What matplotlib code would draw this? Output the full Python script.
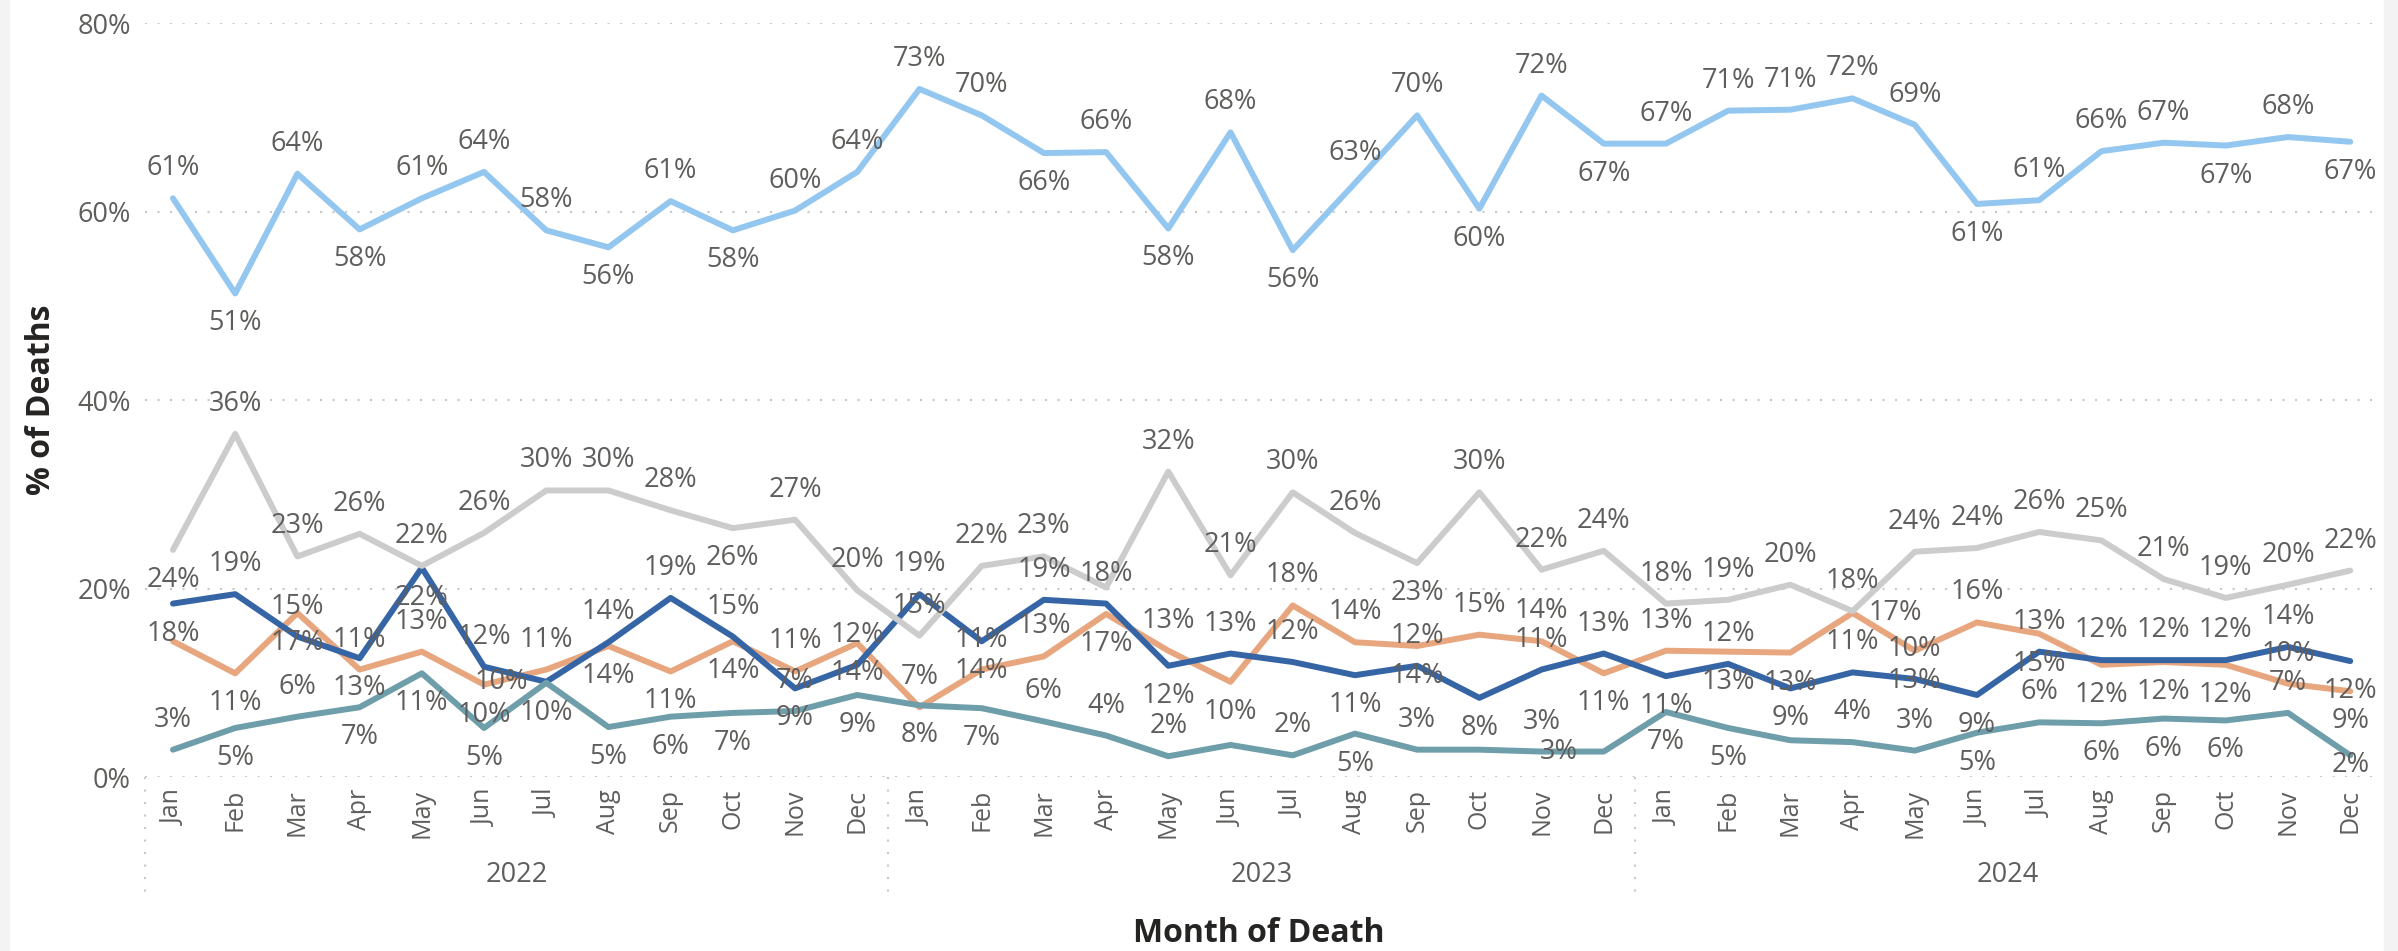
import matplotlib
matplotlib.use("Agg")
import matplotlib.pyplot as plt
from matplotlib.patches import Rectangle

plt.rcParams['font.family'] = ['Open Sans', 'DejaVu Sans']

months = ["Jan", "Feb", "Mar", "Apr", "May", "Jun",
          "Jul", "Aug", "Sep", "Oct", "Nov", "Dec"] * 3
years = ["2022", "2023", "2024"]

# % of deaths per month (five groups)
light_blue = [61.4, 51.3, 64.0, 58.1, 61.4, 64.2, 58.0, 56.2, 61.1, 58.0, 60.1, 64.2,
              73.0, 70.2, 66.2, 66.3, 58.2, 68.4, 55.9, 63.0, 70.2, 60.3, 72.3, 67.2,
              67.2, 70.7, 70.8, 72.0, 69.2, 60.8, 61.2, 66.4, 67.3, 67.0, 67.9, 67.4]
gray = [24.1, 36.4, 23.4, 25.8, 22.4, 25.9, 30.4, 30.4, 28.3, 26.4, 27.3, 19.8,
        15.0, 22.4, 23.4, 20.1, 32.4, 21.4, 30.2, 25.9, 22.7, 30.2, 22.0, 24.0,
        18.4, 18.8, 20.4, 17.6, 23.9, 24.3, 26.0, 25.1, 21.0, 19.0, 20.4, 21.9]
dark_blue = [18.4, 19.4, 14.9, 12.6, 22.2, 11.7, 10.1, 14.3, 19.0, 14.9, 9.4, 11.9,
             19.4, 14.4, 18.8, 18.4, 11.8, 13.1, 12.2, 10.8, 11.8, 8.4, 11.4, 13.1,
             10.7, 12.0, 9.4, 11.1, 10.4, 8.7, 13.3, 12.4, 12.4, 12.4, 13.8, 12.3]
orange = [14.4, 11.0, 17.4, 11.4, 13.3, 9.8, 11.4, 13.9, 11.2, 14.4, 11.2, 14.2,
          7.4, 11.4, 12.8, 17.3, 13.4, 10.1, 18.2, 14.3, 13.9, 15.1, 14.4, 11.0,
          13.4, 13.3, 13.2, 17.4, 13.4, 16.4, 15.2, 11.9, 12.2, 11.9, 9.9, 9.1]
teal = [2.9, 5.2, 6.4, 7.4, 11.0, 5.2, 10.0, 5.3, 6.4, 6.8, 7.0, 8.7,
        7.6, 7.3, 5.9, 4.4, 2.2, 3.4, 2.3, 4.6, 2.9, 2.9, 2.7, 2.7,
        6.9, 5.2, 3.9, 3.7, 2.8, 4.7, 5.8, 5.7, 6.2, 6.0, 6.8, 2.3]

# label placement: a=above, b=below, l=left, r=right, ''=hidden
place_light_blue = ["a", "b", "a", "b", "a", "a", "a", "b", "a", "b", "a", "a",
                    "a", "a", "b", "a", "b", "a", "b", "a", "a", "b", "a", "b",
                    "a", "a", "a", "a", "a", "b", "a", "a", "a", "b", "a", "b"]
place_gray = ["b", "a", "a", "a", "a", "a", "a", "a", "a", "b", "a", "a",
              "a", "a", "a", "", "a", "a", "a", "a", "b", "a", "a", "a",
              "a", "a", "a", "a", "a", "a", "a", "a", "a", "a", "a", "a"]
place_dark_blue = ["b", "a", "a", "b", "b", "a", "l", "a", "a", "a", "b", "a",
                   "a", "b", "a", "a", "b", "a", "a", "b", "a", "b", "a", "a",
                   "b", "a", "b", "a", "a", "b", "a", "a", "a", "a", "a", "b"]
place_orange = ["", "b", "b", "a", "a", "b", "a", "b", "b", "b", "a", "b",
                "a", "a", "a", "b", "a", "b", "a", "a", "b", "a", "a", "b",
                "a", "b", "b", "r", "b", "a", "b", "b", "b", "b", "a", "b"]
place_teal = ["a", "b", "a", "b", "b", "b", "b", "b", "b", "b", "a", "b",
              "b", "b", "a", "a", "a", "", "a", "b", "a", "", "a", "l",
              "b", "b", "", "a", "a", "b", "a", "b", "b", "b", "a", "b"]

series = [
    (orange, place_orange, "#E8A67E"),
    (dark_blue, place_dark_blue, "#3565A5"),
    (teal, place_teal, "#6F9EAB"),
    (gray, place_gray, "#CCCCCC"),
    (light_blue, place_light_blue, "#94C7F0"),
]

W, H, DPI = 2398, 951, 100
fig = plt.figure(figsize=(W / DPI, H / DPI), dpi=DPI)
fig.patch.set_facecolor("white")
fig.patches.append(Rectangle((0, 0), 9 / W, 1, transform=fig.transFigure,
                             color="#F3F3F3", zorder=0))
fig.patches.append(Rectangle((2384 / W, 0), 14 / W, 1, transform=fig.transFigure,
                             color="#F3F3F3", zorder=0))

ax_l, ax_r, ax_t, ax_b = 145, 2372, 23, 777
ax = fig.add_axes([ax_l / W, 1 - ax_b / H, (ax_r - ax_l) / W, (ax_b - ax_t) / H])
ax.set_facecolor("none")

x = list(range(len(months)))
text_col = "#605E5C"
title_col = "#252423"

for vals, _, col in series:
    ax.plot(x, vals, color=col, lw=4.3, solid_capstyle="round",
            solid_joinstyle="round", zorder=3)

ax.set_xlim(-0.45, 35.35)
ax.set_ylim(0, 80)

# pixel -> points (dpi 100)
pt = 72 / DPI
px_per_unit = (ax_b - ax_t) / 80.0
offsets = {"a": (0, 30 * pt), "b": (0, -30 * pt), "l": (-45 * pt, 0), "r": (43 * pt, 0)}
for vals, places, col in series:
    for xi, v, p in zip(x, vals, places):
        if not p:
            continue
        dx, dy = offsets[p]
        # keep labels inside the plot area (bottom edge)
        center_px = v * px_per_unit + dy / pt
        if center_px < 12:
            dy = (12 - v * px_per_unit) * pt
        ax.annotate(f"{int(v + 0.5)}%", (xi, v), xytext=(dx, dy),
                    textcoords="offset points", ha="center", va="center",
                    fontsize=19.5, color=text_col, zorder=5)

ax.set_yticks([0, 20, 40, 60, 80])
ax.set_yticklabels([f"{t}%" for t in [0, 20, 40, 60, 80]])
ax.set_xticks(x)
ax.set_xticklabels(months, rotation=90, ha="center", va="top")
ax.tick_params(axis="y", length=0, pad=10, labelsize=19.5, labelcolor=text_col)
ax.tick_params(axis="x", length=0, pad=8.5, labelsize=18, labelcolor=text_col)
for s in ax.spines.values():
    s.set_visible(False)
ax.yaxis.grid(True, linestyle=(0, (1, 5)), color="#C8C8C8", lw=1.5)
ax.set_axisbelow(True)

span = ax_b - ax_t
xt = ax.get_xaxis_transform()
for sx in [-0.45, 11.5, 23.5]:
    ax.plot([sx, sx], [0, -(900 - ax_b) / span], transform=xt, clip_on=False,
            color="#C8C8C8", lw=1.5, linestyle=(0, (1, 5)))
for i, yr in enumerate(years):
    left = -0.45 if i == 0 else 11.5 + 12 * (i - 1)
    right = 11.5 + 12 * i
    ax.text((left + right) / 2, -(875 - ax_b) / span, yr, transform=xt,
            ha="center", va="center", fontsize=19.5, color=text_col)

ax.text(0.5, -(934 - ax_b) / span, "Month of Death", transform=ax.transAxes,
        ha="center", va="center", fontsize=23, fontweight="bold", color=title_col)
ax.text((41 - ax_l) / (ax_r - ax_l), 0.5, "% of Deaths", transform=ax.transAxes,
        ha="center", va="center", rotation=90, fontsize=23, fontweight="bold",
        color=title_col)

fig.savefig("out.png", dpi=DPI)
